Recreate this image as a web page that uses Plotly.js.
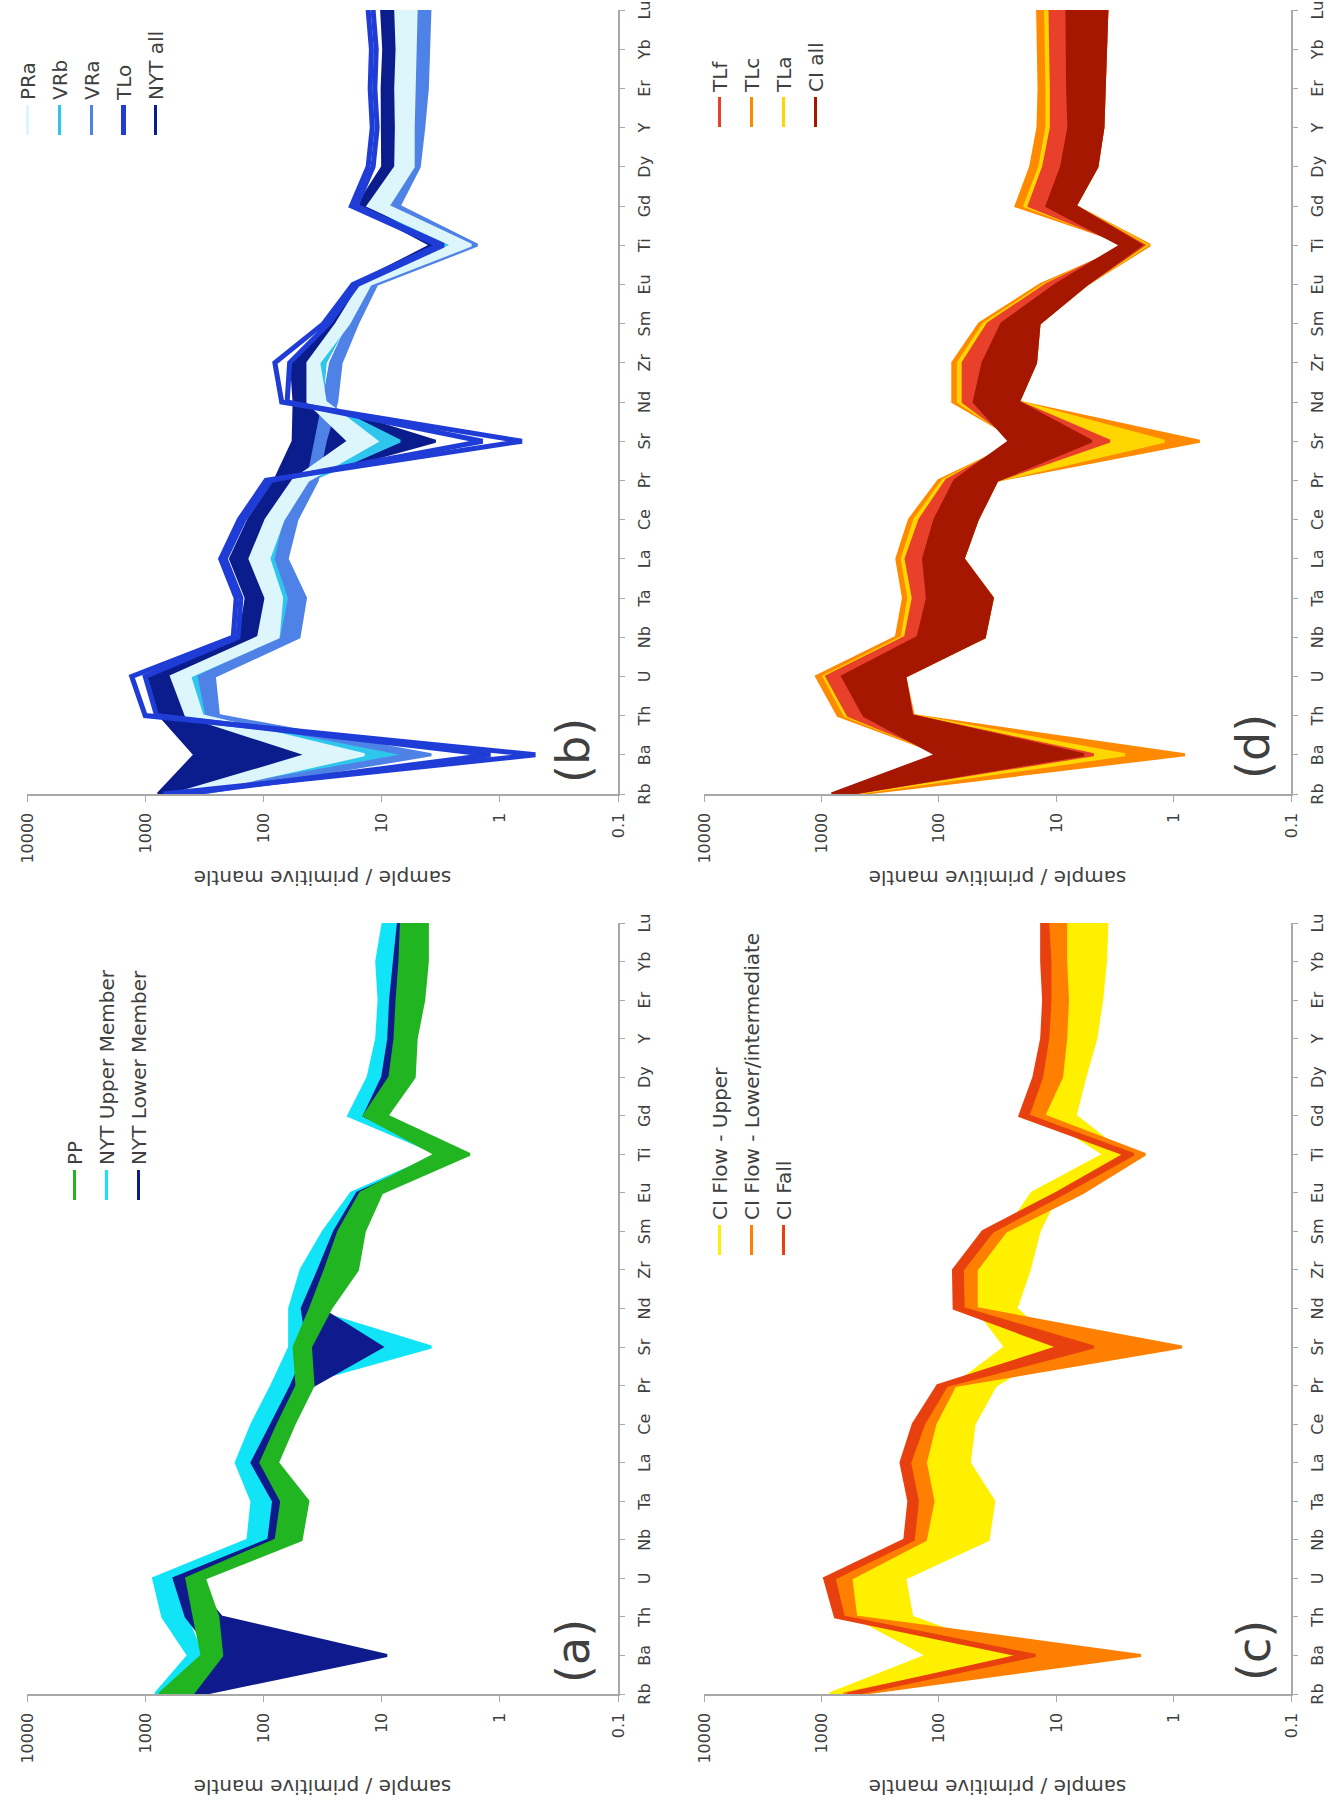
<!DOCTYPE html>
<html>
<head>
<meta charset="utf-8">
<script src="https://cdn.plot.ly/plotly-3.0.1.min.js"></script>
<style>
  html, body { margin: 0; padding: 0; width: 1343px; height: 1812px; overflow: hidden; background: #ffffff; }
  /* the 2x2 figure is laid out landscape and turned a quarter turn counter-clockwise */
  #fig { position: absolute; left: 0; top: 1812px; width: 1812px; height: 1343px;
         transform-origin: 0 0; transform: rotate(-90deg); }
</style>
</head>
<body>
<div id="fig"></div>
<script>
// Element order of the spider diagram
const elements = ['Rb','Ba','Th','U','Nb','Ta','La','Ce','Pr','Sr','Nd','Zr','Sm','Eu','Ti','Gd','Dy','Y','Er','Yb','Lu'];
const decadeVals = [0.1, 1, 10, 100, 1000, 10000];
const decadeText = ['0.1', '1', '10', '100', '1000', '10000'];

// (a) PP and NYT members: min / max envelopes, sample / primitive mantle
const ppHi    = [760, 330, 385, 445, 78, 70, 105, 75, 52, 55, 40, 30, 23, 15, 3.5, 14, 8.5, 7.7, 7.4, 7.0, 6.8];
const ppLo    = [400, 225, 243, 316, 48, 42, 76, 55, 38, 40, 27, 16, 14, 10, 1.8, 9, 5.3, 5.1, 4.4, 4.1, 4.1];
const upperHi = [820, 430, 710, 850, 135, 125, 170, 125, 85, 60, 60, 48, 31, 18, 3.2, 19, 13, 11, 10.5, 11, 9.7];
const upperLo = [600, 330, 450, 560, 85, 78, 120, 80, 56, 3.8, 44, 33, 23, 15, 2.0, 13, 9.5, 8.5, 8.2, 7.6, 7.0];
const lowerHi = [450, 250, 450, 570, 90, 82, 125, 85, 58, 42, 47, 34, 25, 16, 3.0, 14, 9.8, 8.7, 8.4, 7.8, 7.2];
const lowerLo = [330, 9, 227, 420, 70, 66, 100, 72, 38, 10, 33, 29, 21, 14, 2.2, 12, 8.3, 7.5, 7.2, 6.8, 6.5];

// (b) PRa, VRb, VRa, NYT all envelopes and the two TLo samples
const nytHi = [780, 380, 750, 950, 158, 140, 190, 133, 80, 56, 55, 58, 27, 17, 3.8, 16, 9.8, 9.8, 9.9, 9.6, 10];
const nytLo = [560, 40, 420, 560, 110, 100, 135, 95, 55, 3.5, 41, 44, 24, 15, 3.0, 13, 7.5, 7.4, 7.5, 7.3, 7.5];
const praHi = [560, 42, 450, 600, 110, 95, 130, 95, 56, 19, 42, 42, 24, 15, 2.5, 13, 7.6, 7.5, 7.6, 7.4, 7.6];
const praLo = [420, 14, 330, 420, 75, 70, 90, 68, 42, 11, 30, 34, 19, 12.5, 1.75, 8.8, 5.4, 5.4, 5.3, 5.2, 5.1];
const vrbHi = [520, 14, 360, 480, 95, 75, 92, 78, 50, 12, 40, 36, 23, 14.5, 3.1, 12, 7, 7, 7, 6.9, 7];
const vrbLo = [400, 5, 280, 330, 65, 58, 75, 60, 40, 7, 32, 30, 20, 13, 2.4, 9.5, 5.8, 5.8, 5.7, 5.6, 5.5];
const vraHi = [460, 6, 300, 350, 70, 60, 78, 66, 42, 36, 31, 27, 19, 13, 1.9, 9, 5.5, 5.5, 5.4, 5.3, 5.2];
const vraLo = [360, 3.8, 240, 260, 50, 44, 63, 52, 35, 30, 24, 22, 16, 11, 1.55, 7.1, 4.8, 4.4, 4.1, 4.0, 3.9];
const tloA  = [700, 0.5, 1000, 1300, 180, 170, 230, 160, 95, 0.65, 70, 80, 31, 17.5, 3.3, 18, 13, 12, 12.5, 12.2, 13];
const tloB  = [480, 1.2, 800, 1000, 164, 155, 210, 146, 86, 1.4, 63, 60, 28, 16, 3.0, 16.4, 11.8, 10.9, 11.4, 11.1, 11.8];

// (c) CI flow and fall envelopes
const flowUpLo  = [600, 22, 170, 195, 38, 34, 55, 50, 33, 9.5, 22, 17, 14, 9.7, 2.6, 6.9, 5.7, 4.6, 4.1, 3.8, 3.7];
const flowUpHi  = [850, 125, 520, 570, 132, 114, 132, 110, 74, 27, 48, 48, 27, 16, 3.9, 12.8, 9, 8.3, 8, 8.3, 8.3];
const flowLowLo = [480, 1.9, 510, 560, 130, 112, 130, 108, 73, 0.85, 48, 48, 27, 6, 1.75, 12.8, 9, 8.3, 8, 8.3, 8.3];
const flowLowHi = [650, 17, 650, 800, 168, 155, 178, 138, 88, 8, 62, 63, 35, 9, 2.3, 17.4, 13.3, 11.8, 11.3, 11.3, 11.8];
const fallLo    = [520, 15, 650, 780, 165, 152, 177, 135, 86, 4.8, 62, 63, 35, 8.5, 2.2, 17.4, 13.3, 11.8, 11.3, 11.3, 11.8];
const fallHi    = [600, 20, 760, 940, 195, 180, 210, 165, 102, 9.5, 74, 75, 42, 9.8, 2.6, 20.4, 15.5, 13.3, 12.8, 13.3, 13.3];

// (d) TL units against all CI samples
const ciLo  = [600, 5.8, 170, 195, 41, 35, 62, 47, 32, 5, 21, 15, 14, 5.5, 1.9, 6.9, 4.5, 4.0, 3.9, 3.8, 3.7];
const ciHi  = [820, 105, 433, 660, 150, 125, 135, 108, 73, 25, 50, 42, 29, 10, 2.8, 12, 9, 7.8, 8, 8, 8.1];
const tlfLo = [600, 4.8, 170, 195, 41, 35, 62, 47, 32, 3.5, 21, 15, 14, 5.5, 1.8, 6.9, 4.5, 4.0, 3.9, 3.8, 3.7];
const tlfHi = [760, 90, 590, 900, 192, 165, 190, 145, 86, 22, 62, 62, 38, 12, 2.5, 17, 12.8, 11, 11, 11.2, 11.3];
const tlaLo = [560, 2.6, 170, 195, 41, 35, 62, 47, 32, 1.2, 21, 15, 14, 5.5, 1.7, 6.9, 4.5, 4.0, 3.9, 3.8, 3.7];
const tlaHi = [740, 90, 630, 950, 205, 180, 205, 160, 92, 21, 68, 68, 41, 12.5, 2.4, 18.5, 13.8, 12, 12, 12.2, 12.3];
const tlcLo = [480, 0.8, 165, 195, 41, 35, 62, 47, 32, 0.6, 21, 15, 14, 5.5, 1.6, 6.9, 4.5, 4.0, 3.9, 3.8, 3.7];
const tlcHi = [720, 90, 720, 1100, 230, 200, 228, 178, 100, 20, 76, 76, 45, 13.5, 2.3, 22, 16.5, 14.3, 14, 14.3, 14.4];

const FONT = 'DejaVu Sans, Verdana, sans-serif';
const TXT = '#404040';
const AXC = '#a8a8a8';

// filled envelope: upper edge carries the legend entry, lower edge fills up to it
function band(name, color, lo, hi, axes, legend, rank) {
  const common = { x: elements, xaxis: axes[0], yaxis: axes[1], type: 'scatter', mode: 'lines',
                   legend: legend, legendgroup: legend + name, hoverinfo: 'skip',
                   line: { color: color, width: 3 } };
  return [
    Object.assign({}, common, { y: hi, name: name, showlegend: true, legendrank: rank }),
    Object.assign({}, common, { y: lo, fill: 'tonexty', fillcolor: color, showlegend: false })
  ];
}
function sampleLine(name, color, vals, axes, legend, rank, show) {
  return { x: elements, y: vals, xaxis: axes[0], yaxis: axes[1], type: 'scatter', mode: 'lines',
           name: name, legend: legend, legendgroup: legend + name, legendrank: rank,
           showlegend: show, hoverinfo: 'skip', line: { color: color, width: 5 } };
}

const A = ['x', 'y'], B = ['x2', 'y2'], C = ['x3', 'y3'], D = ['x4', 'y4'];
const traces = [].concat(
  // (a)
  band('NYT Upper Member', '#10e4f6', upperLo, upperHi, A, 'legend', 2),
  band('NYT Lower Member', '#0f1b8c', lowerLo, lowerHi, A, 'legend', 3),
  band('PP', '#22b522', ppLo, ppHi, A, 'legend', 1),
  // (b)
  band('NYT all', '#0b1d8c', nytLo, nytHi, B, 'legend2', 5),
  band('VRb', '#2fc6ee', vrbLo, vrbHi, B, 'legend2', 2),
  band('VRa', '#4f82e6', vraLo, vraHi, B, 'legend2', 3),
  band('PRa', '#dcf6fb', praLo, praHi, B, 'legend2', 1),
  [sampleLine('TLo', '#1f3dd6', tloA, B, 'legend2', 4, true),
   sampleLine('TLo', '#1f3dd6', tloB, B, 'legend2', 4, false)],
  // (c)
  band('CI Flow - Upper', '#fff000', flowUpLo, flowUpHi, C, 'legend3', 1),
  band('CI Flow - Lower/intermediate', '#ff8000', flowLowLo, flowLowHi, C, 'legend3', 2),
  band('CI Fall', '#e8400e', fallLo, fallHi, C, 'legend3', 3),
  // (d)
  band('TLc', '#ff8a00', tlcLo, tlcHi, D, 'legend4', 2),
  band('TLa', '#ffd600', tlaLo, tlaHi, D, 'legend4', 3),
  band('TLf', '#e8402a', tlfLo, tlfHi, D, 'legend4', 1),
  band('CI all', '#a51700', ciLo, ciHi, D, 'legend4', 4)
);

const W = 1812, H = 1343;
const colL = [118 / W, 889 / W], colR = [1018 / W, 1802 / W];
const rowT = [1 - 618 / H, 1 - 27 / H], rowB = [1 - 1291 / H, 1 - 704 / H];

function catAxis(dom, anchor) {
  return { type: 'category', categoryorder: 'array', categoryarray: elements, domain: dom, anchor: anchor,
           range: [0, 20], showline: true, linecolor: AXC, linewidth: 1.5, ticks: 'outside', ticklen: 5,
           tickwidth: 1, tickcolor: AXC, tickangle: 0, ticklabelstandoff: 6,
           tickfont: { family: FONT, size: 16, color: TXT }, showgrid: false, zeroline: false, fixedrange: true };
}
function logAxis(dom, anchor, standoff) {
  return { type: 'log', domain: dom, anchor: anchor, range: [-1, 4], tickmode: 'array',
           tickvals: decadeVals, ticktext: decadeText, showline: true, linecolor: AXC, linewidth: 1.5,
           ticks: 'outside', ticklen: 6, tickwidth: 1, tickcolor: AXC, ticklabelstandoff: 8,
           tickfont: { family: FONT, size: 16, color: TXT }, showgrid: false, zeroline: false, fixedrange: true,
           title: { text: 'sample / primitive mantle', font: { family: FONT, size: 20, color: TXT }, standoff: standoff } };
}
function legendBox(x, y) {
  return { x: x, y: y, xanchor: 'left', yanchor: 'top', bgcolor: 'rgba(0,0,0,0)', borderwidth: 0,
           font: { family: FONT, size: 20, color: TXT }, traceorder: 'grouped', tracegroupgap: 3,
           itemwidth: 30, orientation: 'v' };
}
function panelLabel(text, x, y) {
  return { text: text, xref: 'paper', yref: 'paper', x: x, y: y, xanchor: 'center', yanchor: 'middle',
           showarrow: false, font: { family: FONT, size: 46, color: '#404040' } };
}

const layout = {
  width: W, height: H, margin: { l: 0, r: 0, t: 0, b: 0 },
  paper_bgcolor: '#ffffff', plot_bgcolor: '#ffffff',
  font: { family: FONT, color: TXT },
  xaxis: catAxis(colL, 'y'),  yaxis: logAxis(rowT, 'x', 10),
  xaxis2: catAxis(colR, 'y2'), yaxis2: logAxis(rowT, 'x2', 1),
  xaxis3: catAxis(colL, 'y3'), yaxis3: logAxis(rowB, 'x3', 10),
  xaxis4: catAxis(colR, 'y4'), yaxis4: logAxis(rowB, 'x4', 1),
  showlegend: true,
  legend:  legendBox(607 / W, 1 - 55 / H),
  legend2: legendBox(1672 / W, 1 - 8 / H),
  legend3: legendBox(552 / W, 1 - 700 / H),
  legend4: legendBox(1680 / W, 1 - 700 / H),
  annotations: [
    panelLabel('(a)', 161 / W, 1 - 573 / H),
    panelLabel('(b)', 1061 / W, 1 - 573 / H),
    panelLabel('(c)', 161 / W, 1 - 1254 / H),
    panelLabel('(d)', 1065 / W, 1 - 1253 / H)
  ]
};

Plotly.newPlot('fig', traces, layout, { staticPlot: true, displayModeBar: false });
</script>
</body>
</html>
